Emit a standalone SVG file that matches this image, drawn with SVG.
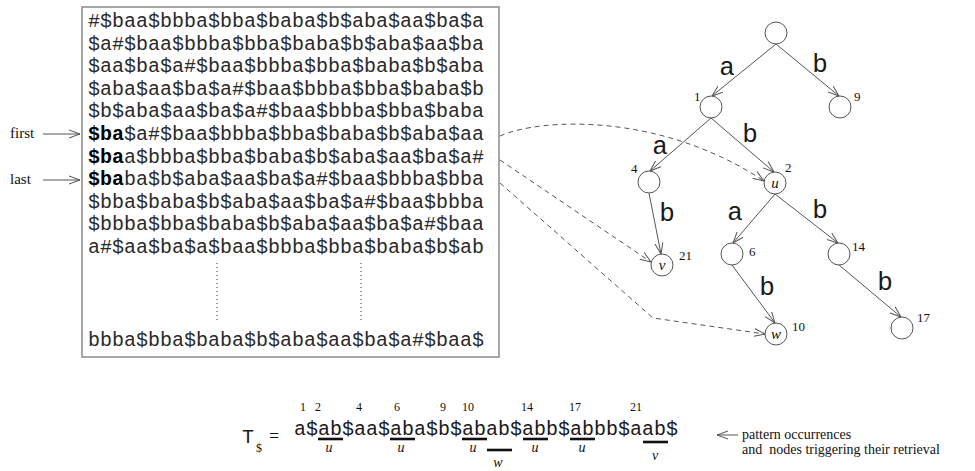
<svg xmlns="http://www.w3.org/2000/svg" width="975" height="471" viewBox="0 0 975 471">
<defs>
<style>
.mono{font-family:"Liberation Mono","DejaVu Sans Mono",monospace;fill:#1a1a1a}
.mat{font-size:20px;fill:#2a2a2a}
.b{font-weight:bold;fill:#000}
.serif{font-family:"Liberation Serif","DejaVu Serif",serif;fill:#111}
.lbl{font-size:26px;text-anchor:middle}
.num{font-size:13px}
.it{font-style:italic;text-anchor:middle;font-size:15px}
.node{fill:#fff;stroke:#555;stroke-width:1}
.edge{fill:none;stroke:#555;stroke-width:1;marker-end:url(#arr)}
.dash{fill:none;stroke:#555;stroke-width:1;stroke-dasharray:5 4;marker-end:url(#arr)}
.ul{stroke:#111;stroke-width:2.6}
</style>
<marker id="arr" markerWidth="12" markerHeight="10" refX="11" refY="5" orient="auto" markerUnits="userSpaceOnUse">
<path d="M0,1 L11,5 L0,9" fill="none" stroke="#555" stroke-width="1"/>
</marker>
</defs>
<rect width="975" height="471" fill="#fff"/>

<g id="matrix">
<rect x="82" y="7" width="417" height="350" fill="none" stroke="#8a8a8a" stroke-width="1.5"/>
<g class="mono mat">
<text x="88" y="27">#$baa$bbba$bba$baba$b$aba$aa$ba$a</text>
<text x="88" y="49.6">$a#$baa$bbba$bba$baba$b$aba$aa$ba</text>
<text x="88" y="72.2">$aa$ba$a#$baa$bbba$bba$baba$b$aba</text>
<text x="88" y="94.8">$aba$aa$ba$a#$baa$bbba$bba$baba$b</text>
<text x="88" y="117.4">$b$aba$aa$ba$a#$baa$bbba$bba$baba</text>
<text x="88" y="140"><tspan class="b">$ba</tspan>$a#$baa$bbba$bba$baba$b$aba$aa</text>
<text x="88" y="162.6"><tspan class="b">$ba</tspan>a$bbba$bba$baba$b$aba$aa$ba$a#</text>
<text x="88" y="185.2"><tspan class="b">$ba</tspan>ba$b$aba$aa$ba$a#$baa$bbba$bba</text>
<text x="88" y="207.8">$bba$baba$b$aba$aa$ba$a#$baa$bbba</text>
<text x="88" y="230.4">$bbba$bba$baba$b$aba$aa$ba$a#$baa</text>
<text x="88" y="253">a#$aa$ba$a$baa$bbba$bba$baba$b$ab</text>
<text x="88" y="346">bbba$bba$baba$b$aba$aa$ba$a#$baa$</text>
</g>
<line x1="217" y1="263" x2="217" y2="321" stroke="#333" stroke-width="1" stroke-dasharray="1 3"/>
<line x1="361" y1="263" x2="361" y2="321" stroke="#333" stroke-width="1" stroke-dasharray="1 3"/>
</g>

<g id="first-label">
<text class="serif" x="10" y="138" font-size="15">first</text>
<line x1="43" y1="134" x2="80" y2="134" class="edge" stroke="#777"/>
</g>
<g id="last-label">
<text class="serif" x="10" y="184" font-size="15">last</text>
<line x1="43" y1="180" x2="80" y2="180" class="edge" stroke="#777"/>
</g>

<g id="connectors">
<line class="edge" x1="776" y1="44" x2="712" y2="96"/>
<line class="edge" x1="776" y1="44" x2="839" y2="96"/>
<line class="edge" x1="711" y1="118" x2="650" y2="171"/>
<line class="edge" x1="711" y1="118" x2="774" y2="172"/>
<line class="edge" x1="649" y1="193" x2="661" y2="254"/>
<line class="edge" x1="775" y1="194" x2="733" y2="243"/>
<line class="edge" x1="775" y1="194" x2="838" y2="243"/>
<line class="edge" x1="732" y1="265" x2="775" y2="323"/>
<line class="edge" x1="839" y1="265" x2="901" y2="317"/>
<path class="dash" d="M500,136 C540,118 660,112 764,181"/>
<path class="dash" d="M500,160 L651,262"/>
<path class="dash" d="M500,183 L653,318 L765,334"/>
<g class="mono lbl">
<text x="727" y="75">a</text>
<text x="820" y="72">b</text>
<text x="660" y="154">a</text>
<text x="750" y="142">b</text>
<text x="667" y="221">b</text>
<text x="735" y="220">a</text>
<text x="820" y="218">b</text>
<text x="767" y="295">b</text>
<text x="885" y="290">b</text>
</g>
</g>

<g id="node-root"><circle class="node" cx="776" cy="33" r="11"/></g>
<g id="node-1"><circle class="node" cx="711" cy="107" r="11"/><text class="serif num" x="694" y="101">1</text></g>
<g id="node-9"><circle class="node" cx="840" cy="107" r="11"/><text class="serif num" x="854" y="101">9</text></g>
<g id="node-4"><circle class="node" cx="649" cy="182" r="11"/><text class="serif num" x="631" y="173">4</text></g>
<g id="node-2"><circle class="node" cx="775" cy="183" r="11"/><text class="serif it" x="775" y="188">u</text><text class="serif num" x="785" y="172">2</text></g>
<g id="node-21"><circle class="node" cx="662" cy="265" r="11"/><text class="serif it" x="662" y="270">v</text><text class="serif num" x="679" y="260">21</text></g>
<g id="node-6"><circle class="node" cx="732" cy="254" r="11"/><text class="serif num" x="749" y="256">6</text></g>
<g id="node-14"><circle class="node" cx="839" cy="254" r="11"/><text class="serif num" x="852" y="251">14</text></g>
<g id="node-10"><circle class="node" cx="776" cy="334" r="11"/><text class="serif it" x="776" y="339">w</text><text class="serif num" x="792" y="331">10</text></g>
<g id="node-17"><circle class="node" cx="902" cy="328" r="11"/><text class="serif num" x="917" y="322">17</text></g>

<g id="text-string">
<text class="mono" x="242" y="443" font-size="20">T</text>
<text class="serif" x="256" y="452" font-size="12">$</text>
<text class="serif" x="269" y="442" font-size="18">=</text>
<text class="mono" x="294" y="435" font-size="20">a$ab$aa$aba$b$abab$abb$abbb$aab$</text>
<g class="serif" font-size="12" text-anchor="middle">
<text x="303" y="411">1</text>
<text x="318" y="411">2</text>
<text x="359" y="411">4</text>
<text x="397" y="411">6</text>
<text x="443" y="411">9</text>
<text x="468" y="411">10</text>
<text x="527" y="411">14</text>
<text x="575" y="411">17</text>
<text x="636" y="411">21</text>
</g>
<line class="ul" x1="318" y1="439" x2="343" y2="439"/>
<line class="ul" x1="390" y1="439" x2="415" y2="439"/>
<line class="ul" x1="462" y1="439" x2="487" y2="439"/>
<line class="ul" x1="487" y1="450" x2="512" y2="450"/>
<line class="ul" x1="523" y1="439" x2="548" y2="439"/>
<line class="ul" x1="570" y1="439" x2="595" y2="439"/>
<line class="ul" x1="643" y1="442" x2="668" y2="442"/>
<g class="serif" font-size="14" font-style="italic" text-anchor="middle">
<text x="329" y="452">u</text>
<text x="401" y="452">u</text>
<text x="473" y="452">u</text>
<text x="535" y="452">u</text>
<text x="582" y="452">u</text>
<text x="498" y="467">w</text>
<text x="655" y="460">v</text>
</g>
</g>

<g id="legend">
<line x1="738" y1="435" x2="717" y2="435" class="edge" stroke="#777"/>
<text class="serif" x="742" y="439" font-size="14">pattern occurrences</text>
<text class="serif" x="742" y="454" font-size="14" xml:space="preserve">and  nodes triggering their retrieval</text>
</g>
</svg>
